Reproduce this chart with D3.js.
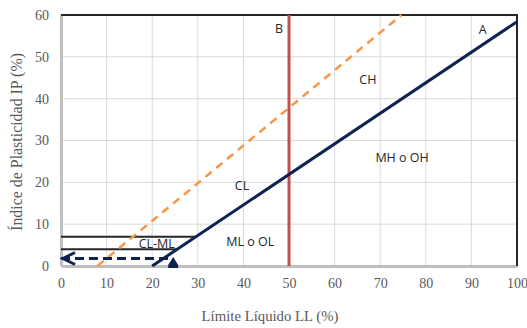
<!DOCTYPE html>
<html><head><meta charset="utf-8">
<script src="https://cdn.jsdelivr.net/npm/d3@7"></script>
<style>body{margin:0;background:#fff}</style>
</head><body>
<svg id="c" width="527" height="328"></svg>
<script>
const xTicks = [0,10,20,30,40,50,60,70,80,90,100];
const yTicks = [0,10,20,30,40,50,60];
const lineA = [[20,0],[100,58.4]];           // IP = 0.73 (LL-20)
const lineU = [[8,0],[74.67,60]];            // IP = 0.9 (LL-8)
const lineB = [[50,0],[50,60]];
const line7 = [[0,7],[29.6,7]];
const line4 = [[0,4],[25.5,4]];
const arrowLine = [[0,1.8],[23.5,1.8]];
const marker = [24.6,0];
const labels = [
  {t:"A", x:92.5, y:56.5},
  {t:"B", x:47.8, y:56.8},
  {t:"CH", x:67.3, y:44.5},
  {t:"CL", x:39.7, y:19.2},
  {t:"MH o OH", x:74.8, y:25.8},
  {t:"ML o OL", x:41.5, y:5.9},
  {t:"CL-ML", x:21.0, y:5.3}
];

const svg = d3.select("#c");
const L=61, R=517, T=15, B=266;
const x = d3.scaleLinear().domain([0,100]).range([L,R]);
const y = d3.scaleLinear().domain([0,60]).range([B,T]);
const ln = d3.line().x(d=>x(d[0])).y(d=>y(d[1]));

// grid
svg.append("g").selectAll("line").data(xTicks.slice(1)).join("line")
  .attr("x1",d=>x(d)).attr("x2",d=>x(d)).attr("y1",T).attr("y2",B)
  .attr("stroke","#d9d9d9").attr("stroke-width",1);
svg.append("g").selectAll("line").data(yTicks.slice(1)).join("line")
  .attr("x1",L).attr("x2",R).attr("y1",d=>y(d)).attr("y2",d=>y(d))
  .attr("stroke","#d9d9d9").attr("stroke-width",1);

// axes
const xAxis = svg.append("g").attr("transform",`translate(0,${B})`)
  .call(d3.axisBottom(x).tickValues(xTicks).tickSize(0).tickPadding(12));
const yAxis = svg.append("g").attr("transform",`translate(${L},0)`)
  .call(d3.axisLeft(y).tickValues(yTicks).tickSize(0).tickPadding(12));
[xAxis,yAxis].forEach(a=>{
  a.select(".domain").attr("stroke","#bfbfbf").attr("stroke-width",3);
  a.selectAll("text").attr("fill","#595959").attr("font-family","'Liberation Serif', serif").attr("font-size",14);
});

// frame top/right
svg.append("path").attr("d",`M${L},${T}H${R}V${B}`).attr("fill","none").attr("stroke","#262626").attr("stroke-width",2);

// CL-ML band lines
[line7,line4].forEach(d=>svg.append("path").attr("d",ln(d)).attr("stroke","#262626").attr("stroke-width",2).attr("fill","none"));

// U line
svg.append("path").attr("d",ln(lineU)).attr("stroke","#f79646").attr("stroke-width",2.5)
  .attr("stroke-dasharray","8,6").attr("fill","none");
// B line
svg.append("path").attr("d",ln(lineB)).attr("stroke","#c0504d").attr("stroke-width",3).attr("fill","none");
// A line
svg.append("path").attr("d",ln(lineA)).attr("stroke","#0d2350").attr("stroke-width",3).attr("fill","none");

// dashed arrow
svg.append("path").attr("d",ln(arrowLine)).attr("stroke","#0d2350").attr("stroke-width",3)
  .attr("stroke-dasharray","9,5").attr("fill","none");
const ax0 = x(arrowLine[0][0])+2, ay0 = y(arrowLine[0][1]);
svg.append("path").attr("d",`M${ax0+12},${ay0-6}L${ax0},${ay0}L${ax0+12},${ay0+6}`)
  .attr("stroke","#0d2350").attr("stroke-width",3).attr("fill","none");
// marker (upward arrowhead)
const mx = x(marker[0]), my = y(marker[1]);
svg.append("path").attr("d",`M${mx},${my-9}L${mx+5},${my-1}L${mx+5},${my+2}L${mx-5},${my+2}L${mx-5},${my-1}Z`)
  .attr("fill","#0d2350");

// labels
svg.append("g").selectAll("text").data(labels).join("text")
  .attr("x",d=>x(d.x)).attr("y",d=>y(d.y)).attr("text-anchor","middle").attr("dy","0.35em")
  .attr("font-family","'Open Sans', 'Liberation Sans', sans-serif").attr("font-size",12.5)
  .attr("fill","#262626").text(d=>d.t);

// axis titles, sized to the reference widths
function fit(sel, target){
  const w = sel.node().getComputedTextLength();
  const fs = +sel.attr("font-size");
  sel.attr("font-size", Math.min(17, fs*target/w));
}
const xt = svg.append("text").attr("x",270).attr("y",321).attr("text-anchor","middle")
  .attr("font-family","'Liberation Serif', serif").attr("font-size",14).attr("fill","#595959")
  .text("Límite Líquido LL (%)");
fit(xt,137);
const yt = svg.append("text").attr("transform",`translate(22,142) rotate(-90)`).attr("text-anchor","middle")
  .attr("font-family","'Liberation Serif', serif").attr("font-size",14).attr("fill","#595959")
  .text("Índice de Plasticidad IP (%)");
fit(yt,178);
</script>
</body></html>
